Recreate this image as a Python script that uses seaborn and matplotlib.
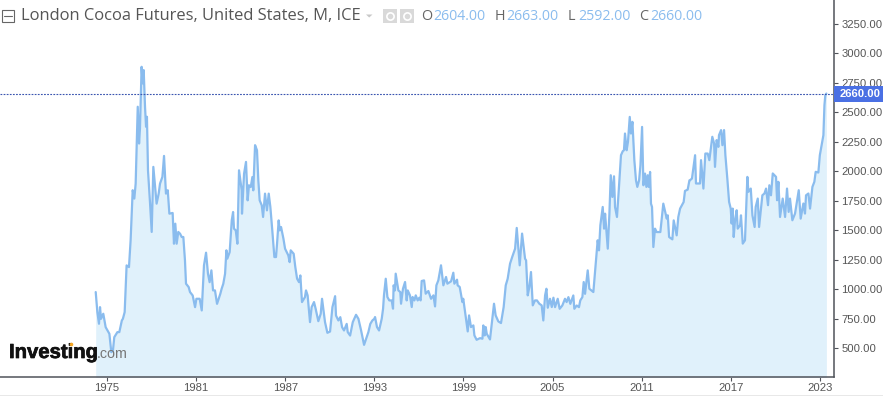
import numpy as np
import pandas as pd
import matplotlib
matplotlib.use("Agg")
import matplotlib.pyplot as plt
import matplotlib.patheffects as pe
from matplotlib.patches import Rectangle, Polygon
from matplotlib.transforms import blended_transform_factory
import seaborn as sns

# ---- data ----------------------------------------------------------------
years_a = [1974.24,1974.35,1974.46,1974.53,1974.60,1974.75,1974.91,1975.16,1975.29,1975.40,1975.49,1975.70,1975.83,1976.00,1976.07,1976.19,1976.32,1976.48,1976.59,1976.73,1976.84,1976.93,1977.07,1977.16,1977.22,1977.33,1977.40,1977.47,1977.56,1977.63,1977.69,1977.76,1977.90,1978.01,1978.12,1978.34,1978.48,1978.57,1978.73,1978.84,1978.97,1979.09,1979.20,1979.42,1979.51,1979.60,1979.69,1979.80,1979.92,1980.03,1980.14,1980.25,1980.32,1980.50,1980.59,1980.77]
price_a = [976,806,707,848,749,792,678,622,466,480,593,636,636,735,749,806,1202,1188,1415,1840,1769,1896,2548,2236,2363,2887,2746,2859,2548,2378,2463,2009,1726,1486,2038,1726,1811,1896,1953,2131,1811,1840,1641,1647,1386,1556,1386,1486,1471,1443,1443,1245,1047,1018,976,947]
years_b = [1980.93,1981.02,1981.24,1981.38,1981.53,1981.67,1981.80,1981.91,1982.03,1982.14,1982.27,1982.41,1982.63,1982.72,1982.83,1982.95,1983.04,1983.10,1983.26,1983.40,1983.49,1983.55,1983.67,1983.78,1983.89,1984.07,1984.09,1984.23,1984.36,1984.47,1984.56,1984.68,1984.79,1984.85,1984.97,1985.10,1985.19,1985.28,1985.42,1985.51,1985.64,1985.77,1985.89,1986.00,1986.13,1986.27,1986.38,1986.45,1986.56,1986.63,1986.72,1986.88,1986.99,1987.21,1987.30,1987.37,1987.57,1987.68,1987.80,1987.93,1988.02,1988.13,1988.33,1988.40,1988.51,1988.67,1988.78,1988.94,1989.05,1989.23,1989.39,1989.48,1989.68,1989.84,1990.02,1990.18,1990.36,1990.42,1990.58,1990.71,1990.83,1990.96,1991.14,1991.21,1991.37,1991.55,1991.77,1991.93,1992.11,1992.31,1992.60,1992.73,1992.87,1993.00]
price_b = [848,919,919,820,1202,1310,1131,1060,1160,990,990,876,961,1004,1046,1131,1330,1259,1315,1584,1655,1514,1499,1386,2009,1839,1641,1981,2080,1754,1882,1867,1952,1839,2222,2179,1924,1754,1712,1613,1811,1669,1811,1698,1499,1273,1273,1386,1584,1499,1528,1429,1344,1287,1230,1330,1301,1188,1089,1060,1117,891,933,990,947,721,848,891,834,729,791,919,721,630,641,848,941,777,735,763,678,650,706,636,607,721,783,749,650,528,636,706,735,749]
years_c = [1993.05,1993.18,1993.32,1993.50,1993.59,1993.65,1993.77,1993.88,1994.01,1994.17,1994.26,1994.30,1994.39,1994.44,1994.62,1994.75,1994.80,1994.93,1995.07,1995.18,1995.25,1995.40,1995.52,1995.58,1995.70,1995.79,1995.92,1996.03,1996.12,1996.19,1996.35,1996.46,1996.64,1996.82,1996.98,1997.09,1997.18,1997.31,1997.49,1997.65,1997.83,1997.92,1998.17,1998.32,1998.39,1998.57,1998.61,1998.75,1998.93,1998.99,1999.29,1999.38,1999.51,1999.67,1999.74,1999.89,2000.12,2000.28,2000.34,2000.43,2000.50,2000.57,2000.79,2001.06,2001.17,2001.35,2001.53,2001.71,2001.85,2001.98,2002.14,2002.30,2002.48,2002.59,2002.79,2002.95,2003.15,2003.22,2003.33,2003.44,2003.55,2003.67,2003.82,2003.95,2004.11,2004.27,2004.38,2004.50,2004.59,2004.68,2004.83,2004.95,2005.06]
price_c = [764,679,650,750,835,948,1089,934,905,905,835,1033,990,1132,990,976,877,1004,1061,905,990,948,849,934,905,948,905,928,905,1070,1075,962,985,919,948,854,1033,1075,1203,1033,1104,1047,1067,1140,1047,1081,1033,1019,891,919,642,778,679,693,608,571,585,580,693,608,679,622,574,877,778,727,713,849,1033,1089,1217,1279,1344,1520,1203,1472,1259,1245,948,1019,1146,863,905,905,877,863,735,948,1004,843,919,849,928]
years_d = [2005.17,2005.35,2005.48,2005.66,2005.84,2005.95,2006.07,2006.20,2006.40,2006.47,2006.63,2006.78,2006.87,2007.01,2007.10,2007.19,2007.37,2007.48,2007.75,2007.93,2008.04,2008.13,2008.22,2008.38,2008.47,2008.54,2008.72,2008.83,2008.92,2009.03,2009.14,2009.21,2009.34,2009.46,2009.61,2009.73,2009.81,2009.88,2009.99,2010.08,2010.20,2010.28,2010.38,2010.51,2010.62,2010.71,2010.83,2010.92,2011.03,2011.12,2011.23,2011.32,2011.41,2011.48,2011.57,2011.63,2011.70,2011.79,2011.90,2012.01,2012.26,2012.46,2012.69,2012.76,2012.85,2013.07,2013.16,2013.36,2013.47,2013.59,2013.83,2013.92,2014.10,2014.22]
price_d = [848,919,834,862,919,891,933,876,947,834,862,848,905,933,1061,961,1160,1004,976,1245,1415,1330,1542,1698,1514,1641,1344,1641,1967,1783,1958,1698,1613,1839,2137,2171,2179,2321,2179,2250,2462,2321,2420,2094,1924,1868,1924,2052,2377,1882,1981,1868,1967,1868,1995,1726,1698,1358,1514,1485,1485,1726,1599,1627,1443,1423,1584,1457,1613,1684,1740,1834,1845,1924]
years_e = [2014.26,2014.39,2014.60,2014.66,2014.93,2015.00,2015.16,2015.29,2015.45,2015.56,2015.76,2015.88,2015.94,2016.05,2016.17,2016.21,2016.35,2016.44,2016.55,2016.64,2016.77,2016.89,2017.00,2017.06,2017.13,2017.20,2017.29,2017.40,2017.47,2017.63,2017.69,2017.81,2017.96,2018.12,2018.19,2018.35,2018.46,2018.61,2018.68,2018.82,2018.91,2019.04,2019.13,2019.27,2019.38,2019.51,2019.60,2019.71,2019.83,2020.05,2020.12,2020.21,2020.32,2020.50,2020.66,2020.79,2020.90,2020.99,2021.15,2021.33,2021.58,2021.71,2021.89,2022.00,2022.07,2022.23,2022.34,2022.50,2022.63,2022.72,2022.90,2023.00,2023.24,2023.31,2023.37,2023.44]
price_e = [1925,1939,2137,1897,1897,2095,1854,2151,2151,2095,2293,2236,2038,2265,2208,2307,2350,2222,2350,2137,1939,1741,1684,1557,1684,1443,1585,1670,1514,1543,1627,1387,1415,1953,1826,1854,1627,1528,1698,1769,1528,1684,1797,1812,1854,1713,1882,1797,1982,1953,1755,1911,1613,1769,1613,1854,1656,1769,1585,1642,1840,1599,1727,1642,1797,1812,1684,1868,1911,1996,1990,2137,2307,2562,2647,2660]

x_ticks = [1975, 1981, 1987, 1993, 1999, 2005, 2011, 2017, 2023]
y_ticks = [500, 750, 1000, 1250, 1500, 1750, 2000, 2250, 2500, 2750, 3000, 3250]
last_close = 2660
title_text = "London Cocoa Futures, United States, M, ICE"
ohlc_labels = ["O", "H", "L", "C"]
ohlc_values = ["2604.00", "2663.00", "2592.00", "2660.00"]

df = pd.DataFrame({
    "year": years_a + years_b + years_c + years_d + years_e,
    "price": price_a + price_b + price_c + price_d + price_e,
})

# ---- figure --------------------------------------------------------------
sns.set_style("white")
W, H = 883, 396
fig = plt.figure(figsize=(W / 100, H / 100), dpi=100, facecolor="white")
ax = fig.add_axes([0, 1 - 376.5 / H, 833.5 / W, 376.5 / H])
ax.set_facecolor("white")

LINE = "#8abcee"
FILL = "#e0f1fb"
AXIS = "#50535a"
TXT = "#555555"
BLUE = "#4a70e4"

ax.fill_between(df["year"], df["price"], 0, color=FILL, lw=0, zorder=1)
sns.lineplot(data=df, x="year", y="price", estimator=None, sort=False,
             color=LINE, lw=1.6, ax=ax, zorder=2, legend=False)

ax.set_xlim(1967.795, 2023.92)
ax.set_ylim(259.6, 3453.7)
ax.set_xlabel("")
ax.set_ylabel("")
ax.axhline(last_close, color="#3a55b0", lw=0.8, ls=(0, (1.6, 1.2)), zorder=3)

for side in ("left", "top"):
    ax.spines[side].set_visible(False)
for side in ("right", "bottom"):
    ax.spines[side].set_visible(True)
    ax.spines[side].set_color(AXIS)
    ax.spines[side].set_linewidth(1.1)

ax.yaxis.tick_right()
ax.set_xticks(x_ticks)
ax.set_xticklabels([str(v) for v in x_ticks])
ax.set_yticks(y_ticks)
ax.set_yticklabels([f"{v}.00" for v in y_ticks])
ax.tick_params(axis="both", length=3, width=0.8, color=AXIS, labelcolor=TXT,
               labelsize=8.1, bottom=True, right=True, left=False, top=False)
ax.tick_params(axis="x", pad=2)
ax.tick_params(axis="y", pad=2.5)
for t in ax.get_xticklabels() + ax.get_yticklabels():
    t.set_fontfamily("Liberation Sans")

# ---- price label on the axis ---------------------------------------------
trans = blended_transform_factory(fig.transFigure, ax.transData)
ax.add_patch(Rectangle((833.5 / W, last_close - 68), 49.5 / W, 132,
                       transform=trans, color=BLUE, clip_on=False, lw=0, zorder=5))
ax.text(860 / W, last_close - 6, f"{last_close}.00", transform=trans, color="white",
        fontsize=8.1, fontweight="bold", family="Liberation Sans",
        ha="center", va="center", clip_on=False, zorder=6)

# ---- header --------------------------------------------------------------
def fx(px):
    return px / W
def fy(py):
    return 1 - py / H

fig.text(fx(21), fy(16), title_text, fontsize=11.9, color="#555555",
         family="Open Sans", va="center", ha="left")
fig.add_artist(Rectangle((fx(1.5), fy(21.5)), 12 / W, 12 / H, fill=False,
                         ec="#666666", lw=0.8, transform=fig.transFigure))
fig.add_artist(plt.Line2D([fx(4), fx(11.5)], [fy(15.5), fy(15.5)], color="#666666",
                          lw=0.8, transform=fig.transFigure))
fig.add_artist(Polygon([[fx(366), fy(14.5)], [fx(372.5), fy(14.5)], [fx(369.2), fy(17.5)]],
                       closed=True, color="#c8c8c8", lw=0, transform=fig.transFigure))
for left in (383, 400):
    fig.add_artist(Rectangle((fx(left), fy(23)), 14 / W, 14 / H, color="#d9d9d9", lw=0,
                             transform=fig.transFigure))
    fig.add_artist(plt.Line2D([fx(left + 7)], [fy(16)], marker="o", ms=5.2, mfc="none",
                              mec="white", mew=1.2, transform=fig.transFigure))

label_x = [421, 495, 568, 639]
value_x = [433, 506, 578, 650]
for lab, val, lx, vx in zip(ohlc_labels, ohlc_values, label_x, value_x):
    fig.text(fx(lx), fy(16), lab, fontsize=10.4, color="#666666", family="Open Sans",
             va="center", ha="left")
    fig.text(fx(vx), fy(16), val, fontsize=10.2, color=LINE, family="Open Sans",
             va="center", ha="left")

# ---- watermark -----------------------------------------------------------
fig.text(fx(9), fy(352.5), "Investing", fontsize=14.6, fontweight="bold", color="#111111",
         family="Liberation Sans", va="center", ha="left", zorder=10,
         path_effects=[pe.withStroke(linewidth=0.5, foreground="#111111")])
fig.text(fx(97), fy(354.5), ".com", fontsize=10.3, color="#777777",
         family="Liberation Sans", va="center", ha="left", zorder=10)
fig.add_artist(plt.Line2D([fx(71)], [fy(343.7)], marker="o", ms=2.6, mfc="#f5a623",
                          mec="none", transform=fig.transFigure, zorder=11))

# bottom strip of the screenshot
fig.add_artist(Rectangle((0, 0), 1, 1.5 / H, color="#e8e8e8", lw=0, transform=fig.transFigure))

fig.savefig("out.png", dpi=100, facecolor="white")
